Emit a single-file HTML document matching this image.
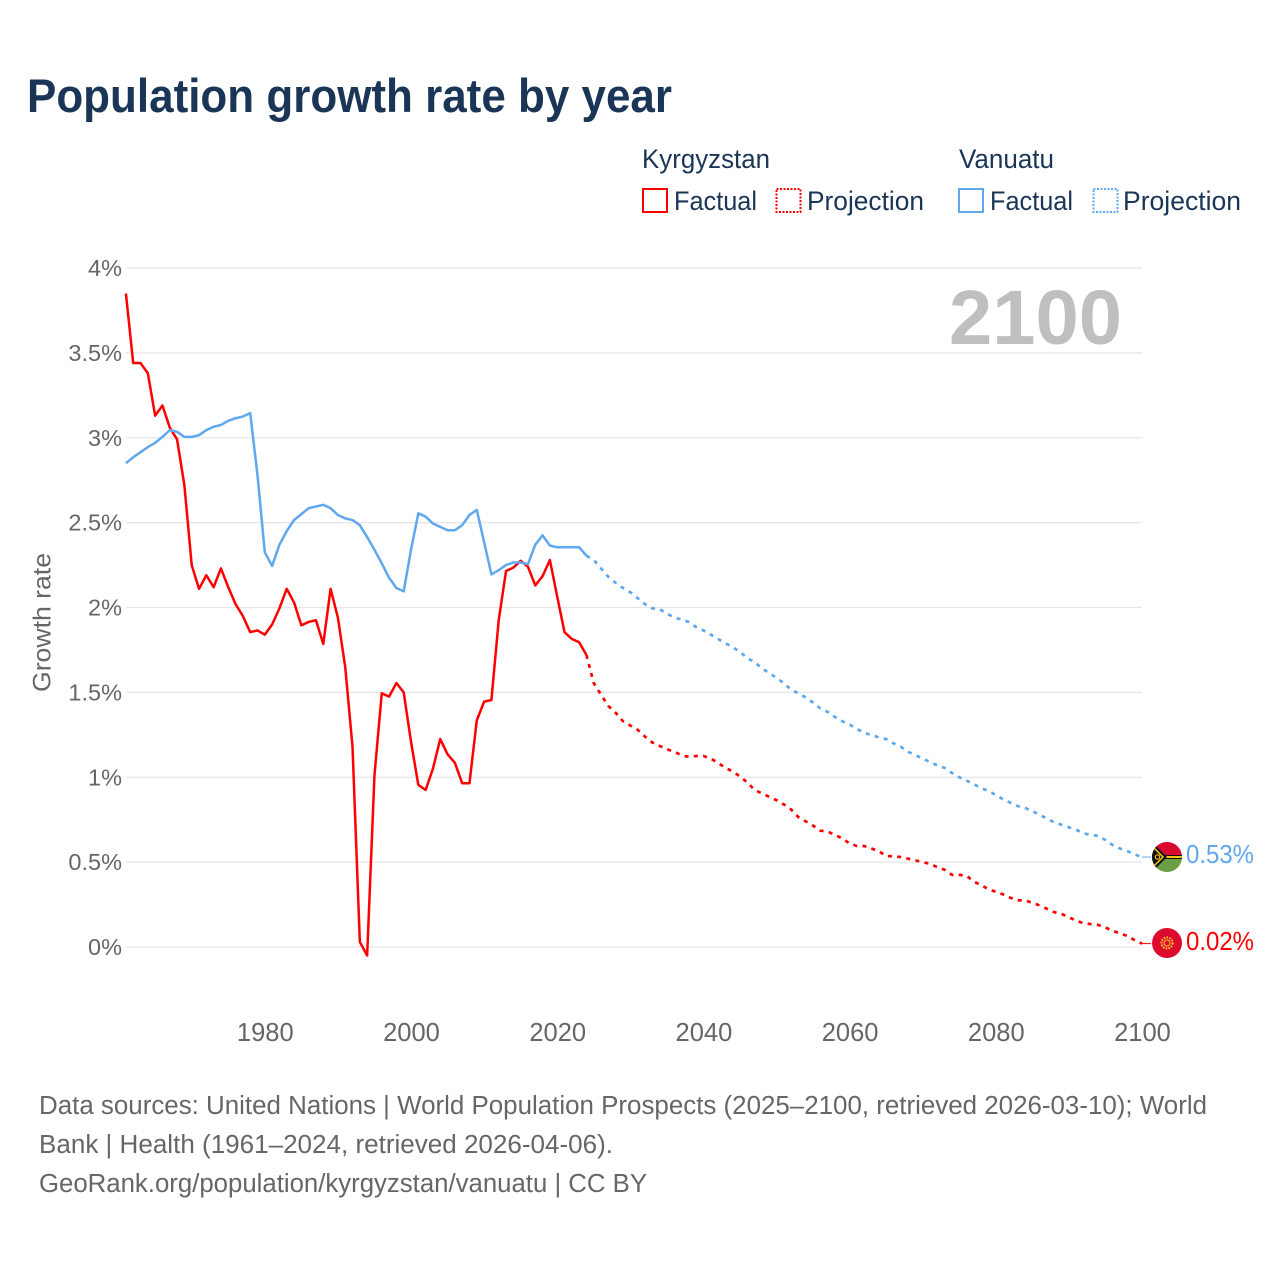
<!DOCTYPE html>
<html lang="en">
<head>
<meta charset="utf-8">
<title>Population growth rate by year</title>
<style>
html,body{margin:0;padding:0;background:#fff;width:1280px;height:1280px;overflow:hidden}
svg{display:block}
text{font-family:"Liberation Sans",sans-serif}
.legend{font-size:26.5px;fill:#1a3556}
.tick{font-size:23.5px;fill:#666}
.foot{font-size:25.5px;fill:#666}
</style>
</head>
<body>
<svg id="chart" width="1280" height="1280" viewBox="0 0 1280 1280" xmlns="http://www.w3.org/2000/svg">
  <rect width="1280" height="1280" fill="#fff"/>
  <text x="27" y="112" font-size="47" font-weight="700" fill="#1a3556" textLength="645" lengthAdjust="spacingAndGlyphs">Population growth rate by year</text>

  <g>
    <text class="legend" x="642" y="168" textLength="128" lengthAdjust="spacingAndGlyphs">Kyrgyzstan</text>
    <text class="legend" x="959" y="168" textLength="95" lengthAdjust="spacingAndGlyphs">Vanuatu</text>
    <rect x="643" y="189" width="24" height="23" fill="none" stroke="#ff0000" stroke-width="2"/>
    <text class="legend" x="674" y="210" textLength="83" lengthAdjust="spacingAndGlyphs">Factual</text>
    <rect x="776.5" y="189" width="24" height="23" fill="none" stroke="#ff0000" stroke-width="2" stroke-dasharray="2 1.5"/>
    <text class="legend" x="807" y="210" textLength="117" lengthAdjust="spacingAndGlyphs">Projection</text>
    <rect x="959" y="189" width="24" height="23" fill="none" stroke="#5fa8ee" stroke-width="2"/>
    <text class="legend" x="990" y="210" textLength="83" lengthAdjust="spacingAndGlyphs">Factual</text>
    <rect x="1093.5" y="189" width="24" height="23" fill="none" stroke="#5fa8ee" stroke-width="2" stroke-dasharray="2 1.5"/>
    <text class="legend" x="1123" y="210" textLength="118" lengthAdjust="spacingAndGlyphs">Projection</text>
  </g>

  <g id="grid"></g>
  <g id="yticks"></g>
  <g id="xticks"></g>
  <text transform="translate(50.5,692) rotate(-90)" font-size="25" fill="#666" textLength="139" lengthAdjust="spacingAndGlyphs">Growth rate</text>
  <text x="949" y="344" font-size="77" font-weight="700" fill="#bfbfbf" textLength="173" lengthAdjust="spacingAndGlyphs">2100</text>
  <g id="series"></g>

  <defs>
    <clipPath id="vu-clip"><circle cx="1167" cy="857" r="15"/></clipPath>
    <clipPath id="kg-clip"><circle cx="1167" cy="943" r="15"/></clipPath>
  </defs>
  <g clip-path="url(#vu-clip)">
    <rect x="1152" y="842" width="30" height="15" fill="#d8082e"/>
    <rect x="1152" y="857" width="30" height="15" fill="#6a9f45"/>
    <rect x="1152" y="855" width="30" height="4" fill="#111"/>
    <rect x="1164" y="856" width="18" height="2" fill="#f5c518"/>
    <polygon points="1152,842 1167,857 1152,872" fill="#111"/>
    <polyline points="1152,846 1163,857 1152,868" fill="none" stroke="#f5c518" stroke-width="1.5"/>
    <circle cx="1157.5" cy="857" r="2.2" fill="none" stroke="#f5c518" stroke-width="1.1"/>
  </g>
  <g clip-path="url(#kg-clip)">
    <rect x="1152" y="928" width="30" height="30" fill="#de0a2e"/>
    <circle cx="1167" cy="943" r="5.5" fill="none" stroke="#f2c230" stroke-width="2.2" stroke-dasharray="1.6 1.2"/>
    <circle cx="1167" cy="943" r="3" fill="none" stroke="#f2c230" stroke-width="1"/>
  </g>
  <text id="label-vanuatu" x="1186" y="863" font-size="26" fill="#5fa8ee" textLength="68" lengthAdjust="spacingAndGlyphs">0.53%</text>
  <text id="label-kyrgyzstan" x="1186" y="950" font-size="26" fill="#ff0000" textLength="68" lengthAdjust="spacingAndGlyphs">0.02%</text>

  <g>
    <text class="foot" x="39" y="1114" textLength="1168" lengthAdjust="spacingAndGlyphs">Data sources: United Nations | World Population Prospects (2025–2100, retrieved 2026-03-10); World</text>
    <text class="foot" x="39" y="1153" textLength="574" lengthAdjust="spacingAndGlyphs">Bank | Health (1961–2024, retrieved 2026-04-06).</text>
    <text class="foot" x="39" y="1192" textLength="608" lengthAdjust="spacingAndGlyphs">GeoRank.org/population/kyrgyzstan/vanuatu | CC BY</text>
  </g>
</svg>
<script>
const firstFactualYear = 1961;
const firstProjectionYear = 2025;
const yTickValues = [0, 0.5, 1, 1.5, 2, 2.5, 3, 3.5, 4];
const yTickLabels = ["0%", "0.5%", "1%", "1.5%", "2%", "2.5%", "3%", "3.5%", "4%"];
const xTickYears = [1980, 2000, 2020, 2040, 2060, 2080, 2100];
const xTickLabels = ["1980", "2000", "2020", "2040", "2060", "2080", "2100"];

const kyrgyzstanFactual = [
  3.85,3.44,3.44,3.38,3.13,3.19,3.06,2.99,2.72,2.25,
  2.11,2.19,2.12,2.23,2.12,2.02,1.95,1.855,1.865,1.84,
  1.90,1.995,2.11,2.03,1.895,1.915,1.925,1.785,2.11,1.94,
  1.65,1.18,0.03,-0.05,1.01,1.495,1.475,1.555,1.50,1.21,
  0.955,0.925,1.05,1.225,1.135,1.085,0.965,0.965,1.335,1.445,
  1.455,1.925,2.215,2.235,2.275,2.24,2.13,2.185,2.28,2.065,
  1.855,1.815,1.795,1.72
];
const kyrgyzstanProjection = [
  1.555,1.485,1.42,1.38,1.33,1.305,1.28,1.24,1.205,1.185,
  1.165,1.15,1.13,1.12,1.125,1.125,1.11,1.085,1.055,1.035,
  1.005,0.97,0.925,0.905,0.885,0.865,0.84,0.81,0.765,0.74,
  0.715,0.685,0.68,0.66,0.64,0.61,0.595,0.595,0.58,0.565,
  0.535,0.535,0.53,0.52,0.51,0.50,0.49,0.47,0.455,0.425,
  0.425,0.42,0.385,0.365,0.34,0.325,0.31,0.29,0.275,0.275,
  0.26,0.245,0.225,0.205,0.195,0.175,0.155,0.14,0.135,0.13,
  0.115,0.095,0.08,0.065,0.04,0.02
];
const vanuatuFactual = [
  2.85,2.885,2.915,2.945,2.97,3.005,3.045,3.035,3.005,3.005,
  3.015,3.045,3.065,3.075,3.10,3.115,3.125,3.145,2.78,2.325,
  2.245,2.37,2.45,2.515,2.55,2.585,2.595,2.605,2.585,2.545,
  2.525,2.515,2.485,2.415,2.34,2.26,2.175,2.115,2.095,2.34,
  2.555,2.535,2.495,2.475,2.455,2.455,2.485,2.545,2.575,2.385,
  2.195,2.22,2.25,2.265,2.265,2.255,2.37,2.425,2.365,2.355,
  2.355,2.355,2.355,2.305
];
const vanuatuProjection = [
  2.28,2.23,2.18,2.145,2.115,2.09,2.055,2.02,1.995,1.99,
  1.965,1.94,1.93,1.915,1.885,1.865,1.84,1.815,1.79,1.765,
  1.74,1.70,1.68,1.64,1.615,1.585,1.555,1.515,1.495,1.47,
  1.44,1.405,1.385,1.355,1.33,1.31,1.285,1.26,1.25,1.235,
  1.225,1.20,1.18,1.15,1.13,1.11,1.09,1.07,1.055,1.025,
  1.00,0.98,0.96,0.935,0.92,0.895,0.87,0.85,0.83,0.82,
  0.80,0.78,0.755,0.735,0.72,0.705,0.69,0.67,0.66,0.655,
  0.63,0.60,0.58,0.565,0.545,0.53
];

const NS = "http://www.w3.org/2000/svg";
const RED = "#ff0000";
const BLUE = "#5fa8ee";

function xScale(year) { return 1142 + (year - 2100) * 7.31; }
function yScale(value) { return 947 - value * 169.75; }

function linePath(startYear, values) {
  return values.map(function (v, i) {
    return (i ? "L" : "M") + xScale(startYear + i).toFixed(2) + " " + yScale(v).toFixed(2);
  }).join("");
}

const grid = document.getElementById("grid");
const yTicks = document.getElementById("yticks");
const xTicks = document.getElementById("xticks");
const seriesGroup = document.getElementById("series");

yTickValues.forEach(function (v, i) {
  const line = document.createElementNS(NS, "line");
  
  
  line.setAttribute("x1", 126);
  line.setAttribute("x2", 1142);
  line.setAttribute("y1", yScale(v));
  line.setAttribute("y2", yScale(v));
  line.setAttribute("stroke", "#e6e6e6");
  line.setAttribute("stroke-width", "1.3");
  grid.appendChild(line);

  const t = document.createElementNS(NS, "text");
  
  
  t.setAttribute("class", "tick");
  t.setAttribute("x", 122);
  t.setAttribute("y", yScale(v) + 8);
  t.setAttribute("text-anchor", "end");
  t.textContent = yTickLabels[i];
  yTicks.appendChild(t);
});

xTickYears.forEach(function (year, i) {
  const t = document.createElementNS(NS, "text");
  
  
  t.setAttribute("class", "tick");
  t.setAttribute("x", xScale(year) + 0.5);
  t.setAttribute("y", 1041);
  t.setAttribute("text-anchor", "middle");
  t.setAttribute("style", "font-size:25.5px");
  t.textContent = xTickLabels[i];
  xTicks.appendChild(t);
});

function addLine(d, color, dashed, name) {
  const p = document.createElementNS(NS, "path");
  
  
  p.setAttribute("d", d);
  p.setAttribute("fill", "none");
  p.setAttribute("stroke", color);
  p.setAttribute("stroke-width", dashed ? "2.7" : "2.5");
  p.setAttribute("stroke-linejoin", "round");
  if (dashed) p.setAttribute("stroke-dasharray", "4 5.3");
  seriesGroup.appendChild(p);
}

function addLeader(value, color, name) {
  const l = document.createElementNS(NS, "line");
  
  
  l.setAttribute("x1", xScale(2100));
  l.setAttribute("x2", xScale(2100) + 9);
  l.setAttribute("y1", yScale(value));
  l.setAttribute("y2", yScale(value));
  l.setAttribute("stroke", color);
  l.setAttribute("stroke-width", "1");
  seriesGroup.appendChild(l);
}

addLine(linePath(firstProjectionYear - 1, [vanuatuFactual[vanuatuFactual.length - 1]].concat(vanuatuProjection)), BLUE, true, "vanuatu-projection-line");
addLine(linePath(firstProjectionYear - 1, [kyrgyzstanFactual[kyrgyzstanFactual.length - 1]].concat(kyrgyzstanProjection)), RED, true, "kyrgyzstan-projection-line");
addLine(linePath(firstFactualYear, kyrgyzstanFactual), RED, false, "kyrgyzstan-factual-line");
addLine(linePath(firstFactualYear, vanuatuFactual), BLUE, false, "vanuatu-factual-line");
addLeader(vanuatuProjection[vanuatuProjection.length - 1], BLUE, "vanuatu-leader-line");
addLeader(kyrgyzstanProjection[kyrgyzstanProjection.length - 1], RED, "kyrgyzstan-leader-line");
</script>
</body>
</html>
